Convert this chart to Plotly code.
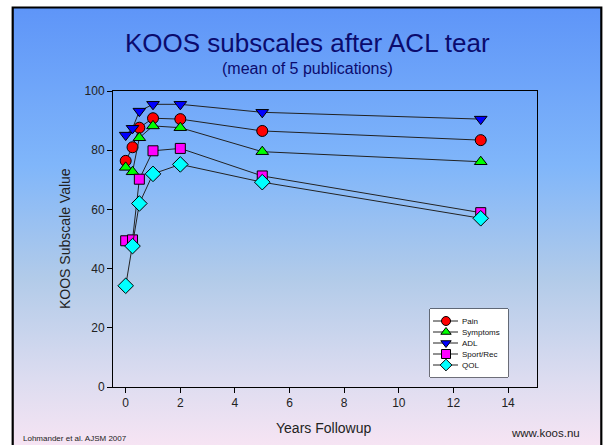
import base64
import plotly.graph_objects as go

# ---------------- data ----------------
years = [0, 0.25, 0.5, 1, 2, 5, 13]
series_names = ["Pain", "Symptoms", "ADL", "Sport/Rec", "QOL"]
pain = [76.4, 81.0, 87.6, 90.8, 90.5, 86.5, 83.4]
symptoms = [74.2, 72.7, 84.2, 88.2, 87.6, 79.5, 76.1]
adl = [85.1, 87.4, 93.2, 95.5, 95.5, 92.8, 90.5]
sport_rec = [49.4, 49.7, 70.2, 79.8, 80.6, 71.3, 58.9]
qol = [34.2, 47.6, 62.0, 72.0, 75.2, 69.2, 57.0]
x_ticks = [0, 2, 4, 6, 8, 10, 12, 14]
y_ticks = [0, 20, 40, 60, 80, 100]

series_values = [pain, symptoms, adl, sport_rec, qol]
symbols = ["circle", "triangle-up", "triangle-down", "square", "diamond"]
colors = ["#ff0000", "#00ff00", "#0000ff", "#ff00ff", "#00ffff"]
sizes = [11, 11, 11, 10, 12]

# ---------------- geometry helpers (pixels -> paper) ----------------
W, H = 604, 445
PL, PR, PT, PB = 113, 537, 91, 387


def px2x(px):
    return (px - PL) / (PR - PL)


def py2y(py):
    return (PB - py) / (PB - PT)


FONT = "Liberation Sans, Arial, sans-serif"

fig = go.Figure()

for name, vals, sym, col, sz in zip(series_names, series_values, symbols, colors, sizes):
    fig.add_trace(go.Scatter(
        x=years, y=vals, name=name, mode="lines+markers",
        line=dict(color="#222222", width=1),
        marker=dict(symbol=sym, color=col, size=sz, line=dict(color="black", width=1)),
        showlegend=False, cliponaxis=False,
    ))

# manual legend drawn on an auxiliary axis inside the legend box
LX0, LX1, LY0, LY1 = 430, 508, 309, 377
for i, (name, sym, col) in enumerate(zip(series_names, symbols, colors)):
    yy = 12 + 11 * i
    fig.add_trace(go.Scatter(
        x=[3, 28], y=[yy, yy], mode="lines", xaxis="x2", yaxis="y2",
        line=dict(color="#222222", width=1), showlegend=False, hoverinfo="skip",
    ))
    fig.add_trace(go.Scatter(
        x=[16], y=[yy], mode="markers", xaxis="x2", yaxis="y2",
        marker=dict(symbol=sym, color=col, size=9, line=dict(color="black", width=1)),
        showlegend=False, hoverinfo="skip",
    ))

# background gradient image
svg = (
    '<svg xmlns="http://www.w3.org/2000/svg" width="100" height="100" '
    'viewBox="0 0 100 100" preserveAspectRatio="none">'
    '<defs><linearGradient id="g" x1="0" y1="0" x2="0" y2="1">'
    '<stop offset="0" stop-color="#5e95f8"/>'
    '<stop offset="0.35" stop-color="#80b6fa"/>'
    '<stop offset="0.6" stop-color="#b2cbe9"/>'
    '<stop offset="0.82" stop-color="#dcdcf0"/>'
    '<stop offset="1" stop-color="#fce6f4"/>'
    '</linearGradient></defs>'
    '<rect x="0" y="0" width="100" height="100" fill="url(#g)"/></svg>'
)
src = "data:image/svg+xml;base64," + base64.b64encode(svg.encode()).decode()

BX0, BX1, BY0, BY1 = 12.7, 601.3, 7.5, 460

annotations = [
    dict(text="KOOS subscales after ACL tear", x=px2x(307), y=py2y(43),
         font=dict(size=26, color="#0b0b6e", family=FONT)),
    dict(text="(mean of 5 publications)", x=px2x(307), y=py2y(68),
         font=dict(size=16, color="#0b0b6e", family=FONT)),
    dict(text="KOOS Subscale Value", x=px2x(65), y=py2y(239), textangle=-90,
         font=dict(size=14, color="#222222", family=FONT)),
    dict(text="Years Followup", x=px2x(323), y=py2y(428),
         font=dict(size=14, color="#222222", family=FONT)),
    dict(text="Lohmander et al. AJSM 2007", x=px2x(21), y=py2y(438), xanchor="left",
         font=dict(size=8, color="#222222", family=FONT)),
    dict(text="www.koos.nu", x=px2x(582), y=py2y(433), xanchor="right",
         font=dict(size=11.5, color="#222222", family=FONT)),
]
for a in annotations:
    a.setdefault("xanchor", "center")
    a.update(xref="paper", yref="paper", yanchor="middle", showarrow=False)

for i, name in enumerate(series_names):
    annotations.append(dict(
        text=name, x=30, y=12 + 11 * i, xref="x2", yref="y2", xanchor="left",
        yanchor="middle", showarrow=False,
        font=dict(size=8, color="#111111", family=FONT),
    ))

fig.update_layout(
    width=W, height=H, autosize=False,
    margin=dict(l=PL, r=W - PR, t=PT, b=H - PB, pad=0),
    paper_bgcolor="white", plot_bgcolor="white",
    font=dict(family=FONT, size=12, color="#222222"),
    xaxis=dict(
        range=[-0.465, 15.06], tickvals=x_ticks, ticks="outside", ticklen=5,
        tickcolor="black", showline=True, linecolor="black", linewidth=1,
        mirror=True, showgrid=False, zeroline=False,
        tickfont=dict(size=12, color="#222222", family=FONT),
    ),
    yaxis=dict(
        range=[0, 100], tickvals=y_ticks, ticks="outside", ticklen=5,
        tickcolor="black", showline=True, linecolor="black", linewidth=1,
        mirror=True, showgrid=False, zeroline=False,
        tickfont=dict(size=12, color="#222222", family=FONT),
    ),
    xaxis2=dict(domain=[px2x(LX0), px2x(LX1)], range=[0, LX1 - LX0], anchor="y2",
                visible=False, fixedrange=True),
    yaxis2=dict(domain=[py2y(LY1), py2y(LY0)], range=[LY1 - LY0, 0], anchor="x2",
                visible=False, fixedrange=True),
    images=[dict(
        source=src, xref="paper", yref="paper",
        x=px2x(BX0), y=py2y(BY0), sizex=(BX1 - BX0) / (PR - PL),
        sizey=(BY1 - BY0) / (PB - PT), xanchor="left", yanchor="top",
        sizing="stretch", layer="below",
    )],
    shapes=[
        dict(type="rect", xref="paper", yref="paper", layer="below",
             x0=px2x(LX0), x1=px2x(LX1), y0=py2y(LY1), y1=py2y(LY0),
             line=dict(color="black", width=1), fillcolor="white"),
        dict(type="rect", xref="paper", yref="paper", layer="above",
             x0=px2x(BX0), x1=px2x(BX1), y0=py2y(BY1), y1=py2y(BY0),
             line=dict(color="black", width=2.2)),
    ],
    annotations=annotations,
    showlegend=False,
)

fig.write_html("out.html")
